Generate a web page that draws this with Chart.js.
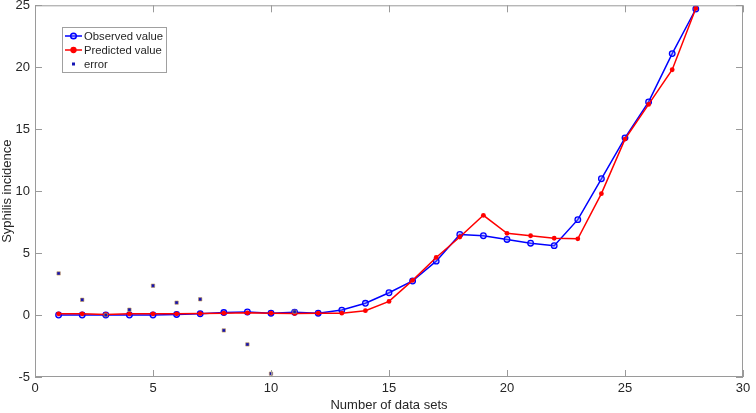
<!DOCTYPE html>
<html>
<head>
<meta charset="utf-8">
<script src="https://cdn.jsdelivr.net/npm/chart.js@4.4.0/dist/chart.umd.min.js"></script>
<style>
  html, body { margin: 0; padding: 0; background: #fff; }
  #wrap { width: 756px; height: 413px; }
</style>
</head>
<body>
<div id="wrap"><canvas id="chart" width="756" height="413"></canvas></div>
<script>
// Data sets
const dataSets = [1, 2, 3, 4, 5, 6, 7, 8, 9, 10, 11, 12, 13, 14, 15, 16, 17, 18, 19, 20, 21, 22, 23, 24, 25, 26, 27, 28];
const observed = [0, 0, 0, 0, 0, 0.05, 0.1, 0.2, 0.25, 0.15, 0.22, 0.15, 0.4, 0.95, 1.8, 2.75, 4.35, 6.5, 6.4, 6.1, 5.8, 5.6, 7.7, 11.0, 14.3, 17.2, 21.1, 24.7];
const predicted = [0.1, 0.1, 0.05, 0.1, 0.1, 0.1, 0.12, 0.15, 0.18, 0.15, 0.12, 0.15, 0.15, 0.35, 1.1, 2.8, 4.65, 6.3, 8.05, 6.6, 6.4, 6.2, 6.15, 9.8, 14.2, 17.0, 19.8, 24.75];
const errorX = [1, 2, 3, 4, 5, 6, 7, 8, 9, 10, 11];
const errorVals = [3.36, 1.23, 0.0, 0.43, 2.37, 1.0, 1.27, -1.24, -2.37, -4.73, 0.27];
const xTicks = [0, 5, 10, 15, 20, 25, 30];
const yTicks = [-5, 0, 5, 10, 15, 20, 25];

const FONT = '"Liberation Sans", Arial, sans-serif';
const BOX = '#9a9a9a';
const TEXT = '#262626';

function toPoints(xs, ys) {
    return xs.map((x, i) => ({ x: x, y: ys[i] }));
}

// Box around the axes, inward ticks on all four sides, and the legend
const matlabAxes = {
    id: 'matlabAxes',
    afterDatasetsDraw(chart) {
        const ctx = chart.ctx;
        const a = chart.chartArea;
        const xs = chart.scales.x, ys = chart.scales.y;
        const len = 7;
        ctx.save();
        ctx.strokeStyle = BOX;
        ctx.lineWidth = 1;
        ctx.strokeRect(a.left + 0.5, a.top + 0.5, a.right - a.left - 1, a.bottom - a.top - 1);
        ctx.beginPath();
        xTicks.forEach(v => {
            const px = Math.round(xs.getPixelForValue(v)) + 0.5;
            ctx.moveTo(px, a.bottom); ctx.lineTo(px, a.bottom - len);
            ctx.moveTo(px, a.top); ctx.lineTo(px, a.top + len);
        });
        yTicks.forEach(v => {
            const py = Math.round(ys.getPixelForValue(v)) + 0.5;
            ctx.moveTo(a.left, py); ctx.lineTo(a.left + len, py);
            ctx.moveTo(a.right, py); ctx.lineTo(a.right - len, py);
        });
        ctx.stroke();

        // legend
        const lx = 62, ly = 27, lw = 104, lh = 45;
        ctx.fillStyle = '#fff';
        ctx.fillRect(lx, ly, lw, lh);
        ctx.strokeStyle = '#a0a0a0';
        ctx.strokeRect(lx + 0.5, ly + 0.5, lw, lh);
        ctx.font = '11.3px ' + FONT;
        ctx.textBaseline = 'middle';
        chart.data.datasets.forEach((ds, i) => {
            const cy = ly + 9 + i * 14;
            const x0 = lx + 3, x1 = lx + 20, xm = (x0 + x1) / 2;
            if (ds.showLine) {
                ctx.strokeStyle = ds.borderColor;
                ctx.lineWidth = 1.5;
                ctx.beginPath();
                ctx.moveTo(x0, cy); ctx.lineTo(x1, cy);
                ctx.stroke();
                ctx.beginPath();
                ctx.arc(xm, cy, ds.pointRadius, 0, Math.PI * 2);
                ctx.fillStyle = ds.pointBackgroundColor;
                ctx.fill();
                ctx.strokeStyle = ds.pointBorderColor;
                ctx.stroke();
            } else {
                ctx.fillStyle = ds.pointBackgroundColor;
                ctx.fillRect(xm - 1.5, cy - 1.5, 3, 3);
            }
            ctx.fillStyle = TEXT;
            ctx.fillText(ds.label, lx + 22, cy + 1);
        });
        ctx.restore();
    }
};

new Chart(document.getElementById('chart').getContext('2d'), {
    type: 'scatter',
    data: {
        datasets: [
            {
                label: 'Observed value',
                data: toPoints(dataSets, observed),
                showLine: true,
                borderColor: '#0000ff',
                borderWidth: 1.5,
                pointRadius: 2.8,
                pointBorderWidth: 1.3,
                pointBorderColor: '#0000ff',
                pointBackgroundColor: 'rgba(120,120,255,0.35)',
                order: 3
            },
            {
                label: 'Predicted value',
                data: toPoints(dataSets, predicted),
                showLine: true,
                borderColor: '#ff0000',
                borderWidth: 1.5,
                pointRadius: 2.4,
                pointBorderWidth: 0,
                pointBorderColor: '#ff0000',
                pointBackgroundColor: '#ff0000',
                order: 2
            },
            {
                label: 'error',
                data: toPoints(errorX, errorVals),
                showLine: false,
                pointStyle: 'rect',
                pointRadius: 2.4,
                pointBorderWidth: 0.6,
                pointBorderColor: '#c89a50',
                pointBackgroundColor: '#1414b4',
                order: 1
            }
        ]
    },
    options: {
        responsive: false,
        animation: false,
        layout: { padding: { left: 0, right: 13, top: 5, bottom: 0 } },
        plugins: {
            legend: { display: false },
            tooltip: { enabled: false }
        },
        scales: {
            x: {
                type: 'linear',
                min: 0, max: 30,
                grid: { display: false, drawTicks: false },
                border: { display: false },
                afterBuildTicks: s => { s.ticks = xTicks.map(v => ({ value: v })); },
                ticks: { color: TEXT, font: { family: FONT, size: 13 }, padding: 4, maxRotation: 0 },
                title: { display: true, text: 'Number of data sets', color: TEXT, font: { family: FONT, size: 13 }, padding: { top: 1, bottom: 0 } },
                afterFit: s => { s.height = 36; s.paddingLeft = 0; s.paddingRight = 0; }
            },
            y: {
                type: 'linear',
                min: -5, max: 25,
                grid: { display: false, drawTicks: false },
                border: { display: false },
                afterBuildTicks: s => { s.ticks = yTicks.map(v => ({ value: v })); },
                ticks: { color: TEXT, font: { family: FONT, size: 13 }, padding: 5 },
                title: { display: true, text: 'Syphilis incidence', color: TEXT, font: { family: FONT, size: 13 }, padding: { top: 0, bottom: 2 } },
                afterFit: s => { s.width = 35; s.paddingTop = 0; s.paddingBottom = 0; }
            }
        }
    },
    plugins: [matlabAxes]
});
</script>
</body>
</html>
